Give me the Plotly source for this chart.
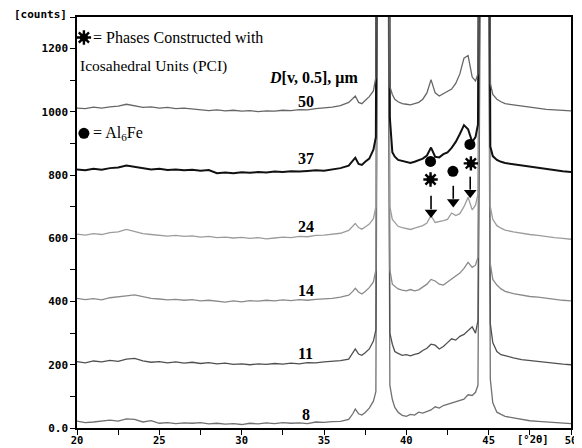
import plotly.graph_objects as go

# 2-theta positions (degrees)
two_theta = [
    20.0, 20.5, 21.0, 21.5, 22.0, 22.5, 23.0, 23.5, 24.0, 24.5, 25.0, 25.5, 26.0, 26.5, 27.0, 27.5,
    28.0, 28.5, 29.0, 29.5, 30.0, 30.5, 31.0, 31.5, 32.0, 32.5, 33.0, 33.5, 34.0, 34.5, 35.0, 35.5, 36.0,
    36.5, 36.75, 36.9, 37.1, 37.3, 37.5, 37.75, 38.0,
    38.15, 38.25, 38.5, 38.75, 38.9, 39.0, 39.15, 39.3,
    39.5, 39.75, 40.0, 40.25, 40.5, 40.75, 41.0, 41.25,
    41.5, 41.75, 42.0, 42.25, 42.5, 42.75, 43.0, 43.25,
    43.5, 43.75, 44.0, 44.2, 44.35, 44.5, 44.75, 45.0,
    45.1, 45.25, 45.5, 45.75, 46.0, 46.5, 47.0, 47.5,
    48.0, 48.5, 49.0, 49.5, 50.0,
]

# counts for each particle size D[v,0.5] (um)
counts_8 = [
    22, 17, 19, 21, 25, 22, 29, 27, 19, 23, 15, 17, 14, 16, 15, 17,
    13, 15, 12, 14, 11, 15, 13, 16, 14, 17, 15, 16, 14, 19, 18, 20, 21,
    27, 45, 60, 45, 41, 49, 63, 85,
    115, 1500, 6000, 4000, 1500, 135, 90, 65,
    50, 40, 37, 43, 41, 50, 47, 53,
    57, 67, 63, 71, 75, 77, 83, 87,
    91, 105, 103, 113, 135, 1500, 6000, 1500,
    155, 80, 50, 43, 37, 32, 27, 23,
    21, 19, 17, 15, 14,
]
counts_11 = [
    210, 206, 212, 209, 214, 211, 218, 220, 212, 208, 210, 206, 209, 205, 208, 204,
    207, 203, 205, 201, 203, 200, 203, 201, 204, 202, 205, 203, 207, 206, 209, 210, 213,
    218, 238, 250, 234, 230, 238, 250, 275,
    310, 1800, 6000, 4000, 1800, 300, 265, 242,
    236, 230, 232, 228, 233, 236, 245, 252,
    265, 262, 250, 258, 270, 282, 278, 290,
    296, 308, 320, 300, 340, 1800, 6000, 1800,
    330, 270, 242, 232, 228, 222, 216, 213,
    210, 206, 204, 202, 200,
]
counts_14 = [
    410, 406, 409, 405, 412, 414, 418, 421, 415, 410, 408, 405, 407, 404, 406, 402,
    404, 400, 398, 402, 399, 403, 401, 404, 402, 405, 403, 406, 404, 407, 408, 410, 414,
    420, 432, 442, 430, 424, 432, 444, 462,
    500, 2000, 6000, 4000, 2000, 500, 455, 448,
    440, 436, 434, 438, 434, 437, 445, 455,
    470, 465, 455, 452, 462, 472, 480, 490,
    505, 524, 508, 515, 540, 2000, 6000, 2000,
    520, 470, 452, 440, 432, 425, 420, 416,
    414, 410, 406, 404, 402,
]
counts_24 = [
    613, 610, 615, 612, 618, 620, 628, 622, 615, 612, 610, 607, 609, 606, 608, 604,
    606, 602, 604, 601, 603, 600, 602, 598, 601, 604, 602, 606, 605, 609, 610, 612, 616,
    625, 638, 647, 634, 629, 636, 645, 662,
    700, 2200, 6000, 4000, 2200, 700, 660, 650,
    638, 634, 630, 628, 632, 636, 640, 648,
    672, 650, 652, 656, 660, 680, 672, 678,
    700, 730, 690, 705, 740, 2200, 6000, 2200,
    700, 660, 640, 632, 626, 620, 615, 612,
    609, 605, 602, 600, 597,
]
counts_37 = [
    818, 815, 820, 817, 822, 824, 830, 826, 820, 818, 820, 816, 818, 815, 817, 814,
    816, 806, 808, 806, 809, 807, 810, 808, 811, 810, 812, 811, 813, 815, 814, 818, 822,
    830, 845, 855, 835, 832, 842, 852, 880,
    920, 2400, 6000, 4000, 2400, 980, 872, 858,
    848, 844, 840, 838, 842, 846, 852, 862,
    887, 858, 856, 866, 872, 886, 905, 930,
    958, 945, 905, 920, 960, 2400, 6000, 2400,
    890, 860, 848, 842, 838, 834, 830, 826,
    822, 818, 815, 812, 810,
]
counts_50 = [
    1012, 1010, 1015, 1012, 1016, 1018, 1024, 1018, 1014, 1016, 1012, 1014, 1010, 1012, 1009, 1006,
    1004, 1006, 1003, 1005, 1002, 1004, 1001, 1003, 1002, 1005, 1004, 1007, 1006, 1010, 1012, 1015, 1020,
    1030, 1042, 1050, 1030, 1026, 1036, 1048, 1066,
    1110, 2600, 6000, 4000, 2600, 1080, 1055, 1040,
    1032, 1026, 1024, 1022, 1026, 1030, 1040, 1060,
    1102, 1060, 1050, 1058, 1064, 1072, 1090, 1120,
    1170, 1178, 1110, 1098, 1120, 2600, 6000, 2600,
    1090, 1055, 1040, 1032, 1026, 1022, 1018, 1014,
    1010, 1008, 1006, 1004, 1003,
]

size_labels = ["8", "11", "14", "24", "37", "50"]
series = [counts_8, counts_11, counts_14, counts_24, counts_37, counts_50]
label_counts = [44, 237, 436, 638, 853, 1033]

y_tick_vals = [0, 200, 400, 600, 800, 1000, 1200]
y_tick_text = ["0.0", "200", "400", "600", "800", "1000", "1200"]
x_tick_vals = [20, 25, 30, 35, 40, 45, 50]

colors = {"8": "#707070", "11": "#505050", "14": "#8a8a8a", "24": "#9c9c9c",
          "37": "#111111", "50": "#666666"}
widths = {"8": 1.3, "11": 1.3, "14": 1.3, "24": 1.3, "37": 2.0, "50": 1.3}

fig = go.Figure()
for name, ys in zip(size_labels, series):
    fig.add_trace(go.Scatter(x=two_theta, y=ys, mode="lines", name=name,
                             line=dict(color=colors[name], width=widths[name]),
                             showlegend=False, hoverinfo="skip"))

serif = "Liberation Serif"
mono = "DejaVu Sans Mono"

# Phase symbols: circles (Al6Fe) and spiky stars (PCI), incl. the key symbols
circle_pts = [(20.42, 932), (41.47, 843), (42.83, 812), (43.86, 897)]
star_pts = [(20.42, 1235), (41.47, 786), (43.92, 837)]
fig.add_trace(go.Scatter(x=[p[0] for p in circle_pts], y=[p[1] for p in circle_pts],
                         mode="markers", marker=dict(symbol="circle", size=11, color="black"),
                         showlegend=False, hoverinfo="skip"))
fig.add_trace(go.Scatter(x=[p[0] for p in star_pts], y=[p[1] for p in star_pts],
                         mode="markers",
                         marker=dict(symbol="asterisk", size=12, color="black",
                                     line=dict(width=2.4, color="black")),
                         showlegend=False, hoverinfo="skip"))
fig.add_trace(go.Scatter(x=[p[0] for p in star_pts], y=[p[1] for p in star_pts],
                         mode="markers", marker=dict(symbol="circle", size=8, color="black"),
                         showlegend=False, hoverinfo="skip"))

# Arrows: shafts + triangular heads
arrows = [(41.5, 735, 682), (42.85, 766, 715), (43.88, 795, 744)]
sx, sy = [], []
for ax_, y0, yh in arrows:
    sx += [ax_, ax_, None]
    sy += [y0, yh + 10, None]
fig.add_trace(go.Scatter(x=sx, y=sy, mode="lines", line=dict(color="black", width=1.6),
                         showlegend=False, hoverinfo="skip"))
fig.add_trace(go.Scatter(x=[a[0] for a in arrows], y=[a[2] for a in arrows], mode="markers",
                         marker=dict(symbol="triangle-down", size=11, color="black"),
                         showlegend=False, hoverinfo="skip"))

annotations = []
for name, yc in zip(size_labels, label_counts):
    annotations.append(dict(x=33.9, y=yc, xref="x", yref="y", text=f"<b>{name}</b>",
                            showarrow=False, font=dict(family=serif, size=16, color="black")))

annotations += [
    dict(x=20.85, y=1235, xref="x", yref="y", xanchor="left", yanchor="middle", showarrow=False,
         text="= Phases Constructed with", font=dict(family=serif, size=16, color="black")),
    dict(x=20.05, y=1146, xref="x", yref="y", xanchor="left", yanchor="middle", showarrow=False,
         text="Icosahedral Units (PCI)", font=dict(family=serif, size=15.5, color="black")),
    dict(x=20.85, y=932, xref="x", yref="y", xanchor="left", yanchor="middle", showarrow=False,
         text="= Al<sub>6</sub>Fe", font=dict(family=serif, size=16, color="black")),
    dict(x=31.55, y=1106, xref="x", yref="y", xanchor="left", yanchor="middle", showarrow=False,
         text="<b><i>D</i>[v, 0.5], μm</b>", font=dict(family=serif, size=16, color="black")),
    dict(x=-0.073, y=1.005, xref="paper", yref="paper", xanchor="center", yanchor="middle",
         showarrow=False, text="<b>[counts]</b>", font=dict(family=mono, size=11, color="black")),
    dict(x=47.7, y=-0.027, xref="x", yref="paper", xanchor="center", yanchor="middle",
         showarrow=False, text="<b>[°2θ]</b>", font=dict(family=mono, size=10.5, color="black")),
]

# The page body has an 8px default margin: size the figure so it fills the 582x448 window.
fig.update_layout(
    width=574, height=440,
    margin=dict(l=69, r=11, t=9, b=20),
    paper_bgcolor="white", plot_bgcolor="white",
    annotations=annotations,
    xaxis=dict(range=[20, 50], tickvals=x_tick_vals, ticks="outside", ticklen=5,
               tickwidth=1.2, tickcolor="black", showline=True, linecolor="black",
               linewidth=1.5, mirror=True, showgrid=False, zeroline=False, automargin=False,
               ticklabelstandoff=-3,
               tickfont=dict(family=mono, size=10.5, color="black", weight="bold"),
               minor=dict(dtick=2.5, tick0=20, ticks="outside", ticklen=5, tickcolor="black",
                          showgrid=False)),
    yaxis=dict(range=[0, 1300], tickvals=y_tick_vals, ticktext=y_tick_text, ticks="outside",
               ticklen=5, tickwidth=1.2, tickcolor="black", showline=True, linecolor="black",
               linewidth=1.5, mirror=True, showgrid=False, zeroline=False, automargin=False,
               tickfont=dict(family=mono, size=11, color="black", weight="bold"),
               minor=dict(dtick=100, tick0=0, ticks="outside", ticklen=5, tickcolor="black",
                          showgrid=False)),
)

fig.write_html("out.html")
